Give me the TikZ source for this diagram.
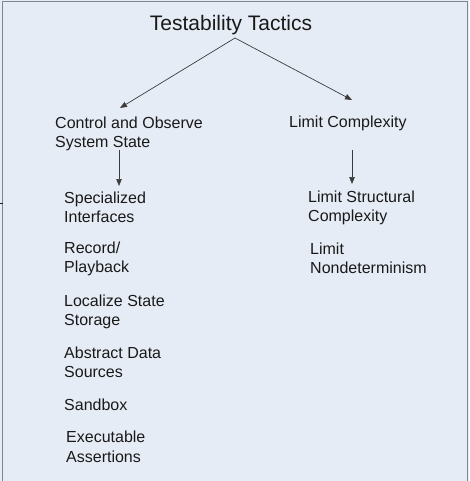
\documentclass[tikz,border=0pt]{standalone}
\usepackage{fontspec}
\setmainfont{Liberation Sans}
\usetikzlibrary{arrows.meta}
\definecolor{bg}{RGB}{230,236,246}
\definecolor{frame}{RGB}{130,134,142}
\definecolor{ink}{RGB}{25,25,25}
\tikzset{
  item/.style={anchor=base west, inner sep=0pt, align=left, text=ink, font=\fontsize{16}{19.5}\selectfont},
  ttl/.style={anchor=base, inner sep=0pt, text=ink, font=\fontsize{21}{24}\selectfont},
  arr/.style={draw=ink!85, line width=0.7pt, -{Triangle[length=7pt,width=5.5pt]}},
}
\begin{document}
\begin{tikzpicture}[x=1pt,y=-1pt]
\useasboundingbox (0,0) rectangle (469,481);
\fill[bg] (0,0) rectangle (469,481);
\draw[frame, line width=1pt] (2,481) -- (2,1.5) -- (467,1.5) -- (467,481);
\draw[ink, line width=1pt] (0,203) -- (3,203);
% multi-line nodes: base anchor = baseline of last line
\node[ttl] (title) at (231,31) {Testability Tactics};
\node[item] (ctrl) at (55,148) {Control and Observe\\System State};
\node[item] (limit) at (289,128) {Limit Complexity};
\node[item] (spec) at (64,222.5) {Specialized\\Interfaces};
\node[item] (rec) at (64,272.5) {Record/\\Playback};
\node[item] (loc) at (64,325.5) {Localize State\\Storage};
\node[item] (abs) at (64,377.5) {Abstract Data\\Sources};
\node[item] (sand) at (64,410) {Sandbox};
\node[item] (exe) at (66,462) {Executable\\Assertions};
\node[item] (lsc) at (308,221.5) {Limit Structural\\Complexity};
\node[item] (lnd) at (310,273.5) {Limit\\Nondeterminism};
\coordinate (tbot) at (235,38);
\coordinate (ctop) at (120,108);
\coordinate (ltop) at (352,100);
\coordinate (cbot) at (119,150);
\coordinate (cend) at (119,186);
\coordinate (lbot) at (352,150);
\coordinate (lend) at (352,184);
\draw[arr] (tbot) -- (ctop);
\draw[arr] (tbot) -- (ltop);
\draw[arr] (cbot) -- (cend);
\draw[arr] (lbot) -- (lend);
\end{tikzpicture}
\end{document}
